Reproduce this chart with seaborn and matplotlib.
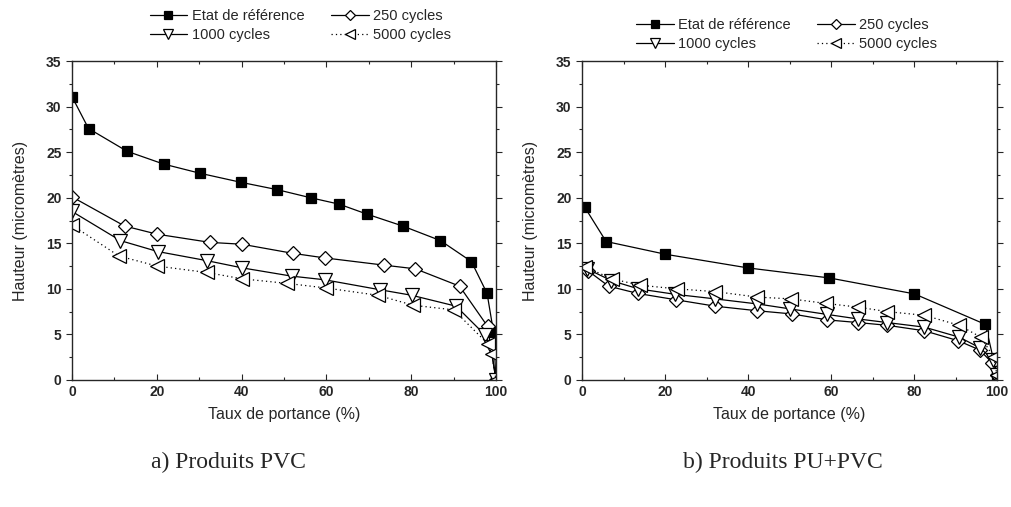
import numpy as np
import pandas as pd
import seaborn as sns
import matplotlib.pyplot as plt
from matplotlib.ticker import MultipleLocator

# ---- a) Produits PVC ----
pvc_ref_x = [0, 3.9, 13, 21.6, 30.1, 39.8, 48.3, 56.3, 63, 69.6, 78, 86.9, 94.2, 97.9, 99.4, 100]
pvc_ref_y = [31.1, 27.6, 25.1, 23.7, 22.7, 21.7, 20.9, 20.0, 19.3, 18.2, 16.9, 15.3, 13.0, 9.5, 5.3, 0]
pvc_250_x = [0, 12.4, 20.1, 32.6, 40.1, 52.1, 59.6, 73.7, 81, 91.4, 98, 100]
pvc_250_y = [20.1, 16.9, 16.0, 15.1, 14.9, 13.9, 13.4, 12.6, 12.2, 10.3, 5.9, 0]
pvc_1000_x = [0, 11.4, 20.2, 31.8, 40.2, 51.8, 59.6, 72.7, 80.1, 90.6, 97.5, 98.8, 100]
pvc_1000_y = [18.5, 15.3, 14.1, 13.1, 12.3, 11.4, 11.0, 9.9, 9.3, 8.1, 4.9, 3.6, 0]
pvc_5000_x = [0, 11.1, 20.1, 31.8, 40.2, 50.8, 59.9, 72.1, 80.5, 90, 98, 99, 100]
pvc_5000_y = [17.0, 13.6, 12.5, 11.8, 11.1, 10.6, 10.1, 9.3, 8.2, 7.7, 4.0, 2.9, 0]

# ---- b) Produits PU+PVC ----
pu_ref_x = [0.6, 5.8, 20.1, 40, 59.6, 80.1, 97.2, 100]
pu_ref_y = [19.0, 15.2, 13.8, 12.3, 11.2, 9.45, 6.1, 0.5]
pu_250_x = [1.4, 6.4, 13.4, 22.7, 32.1, 42.2, 50.6, 59, 66.6, 73.6, 82.5, 90.7, 95.8, 98.8, 100]
pu_250_y = [12.0, 10.3, 9.5, 8.8, 8.1, 7.6, 7.25, 6.6, 6.3, 6.0, 5.4, 4.3, 3.3, 1.9, 0.5]
pu_1000_x = [1.2, 7.1, 13.6, 22.5, 32.1, 42.2, 50.2, 59, 66.5, 73.6, 82.5, 90.9, 96, 99, 100]
pu_1000_y = [12.2, 10.9, 10.0, 9.4, 8.9, 8.35, 7.8, 7.2, 6.7, 6.3, 5.8, 4.7, 3.5, 2.2, 0.5]
pu_5000_x = [0.8, 7.2, 14, 22.9, 32.1, 42.2, 50.4, 58.8, 66.5, 73.6, 82.5, 90.9, 96.1, 99.2, 100]
pu_5000_y = [12.4, 11.1, 10.4, 10.0, 9.7, 9.1, 8.9, 8.4, 8.0, 7.5, 7.1, 6.0, 4.7, 2.5, 0.5]

labels = ["Etat de référence", "250 cycles", "1000 cycles", "5000 cycles"]
captions = ["a) Produits PVC", "b) Produits PU+PVC"]

sns.set_style("ticks")
plt.rcParams['font.family'] = ['Liberation Sans', 'DejaVu Sans']

fig = plt.figure(figsize=(10.11, 5.07), dpi=100)
ax1 = fig.add_axes([0.0712, 0.2505, 0.4194, 0.629])
ax2 = fig.add_axes([0.5757, 0.2505, 0.4105, 0.629])

# style per series: marker, facecolor, linestyle
styles = [
    dict(marker='s', markerfacecolor='black', linestyle='-', markersize=7.5),
    dict(marker='D', markerfacecolor='white', linestyle='-', markersize=7),
    dict(marker='v', markerfacecolor='white', linestyle='-', markersize=9.5),
    dict(marker='<', markerfacecolor='white', linestyle=(0, (1, 2.5)), markersize=9.5),
]

panels = [
    (ax1, [(pvc_ref_x, pvc_ref_y), (pvc_250_x, pvc_250_y), (pvc_1000_x, pvc_1000_y), (pvc_5000_x, pvc_5000_y)]),
    (ax2, [(pu_ref_x, pu_ref_y), (pu_250_x, pu_250_y), (pu_1000_x, pu_1000_y), (pu_5000_x, pu_5000_y)]),
]

for ax, series in panels:
    for (xs, ys), lab, st in zip(series, labels, styles):
        df = pd.DataFrame({'x': xs, 'y': ys})
        kw = dict(markeredgecolor='black', markeredgewidth=0.9)
        kw.update(st)
        sns.lineplot(x='x', y='y', data=df, ax=ax, color='black', linewidth=0.9,
                     sort=False, label=lab, legend=False, **kw)
    ax.set_xlim(0, 100)
    ax.set_ylim(0, 35)
    ax.xaxis.set_major_locator(MultipleLocator(20))
    ax.xaxis.set_minor_locator(MultipleLocator(10))
    ax.yaxis.set_major_locator(MultipleLocator(5))
    ax.yaxis.set_minor_locator(MultipleLocator(2.5))
    ax.tick_params(axis='both', which='both', top=True, right=True, direction='in',
                   labelsize=10, width=0.8)
    ax.tick_params(axis='y', which='both', direction='out')
    ax.tick_params(which='major', length=4)
    ax.tick_params(which='minor', length=2.5)
    for t in ax.get_xticklabels() + ax.get_yticklabels():
        t.set_fontweight('bold')
    for sp in ax.spines.values():
        sp.set_linewidth(1.0)
    ax.set_xlabel('Taux de portance (%)', fontsize=11.5, labelpad=6)
    ax.set_ylabel('Hauteur (micromètres)', fontsize=11.5, labelpad=13)

# legend row-wise: Etat, 250 / 1000, 5000
order = [0, 2, 1, 3]
for ax, cx, cy in [(ax1, 0.297, 0.95), (ax2, 0.778, 0.932)]:
    h, l = ax.get_legend_handles_labels()
    fig.legend([h[i] for i in order], [l[i] for i in order], loc='center',
               bbox_to_anchor=(cx, cy), ncol=2, frameon=False, markerscale=0.7,
               fontsize=10.5, handlelength=2.6, columnspacing=1.8, labelspacing=0.35,
               handletextpad=0.3)

fig.text(228 / 1011, 1 - 462 / 507, captions[0], ha='center', va='center',
         fontsize=17, family=['Liberation Serif', 'DejaVu Serif'])
fig.text(783 / 1011, 1 - 462 / 507, captions[1], ha='center', va='center',
         fontsize=17, family=['Liberation Serif', 'DejaVu Serif'])

fig.savefig('out.png', dpi=100)
